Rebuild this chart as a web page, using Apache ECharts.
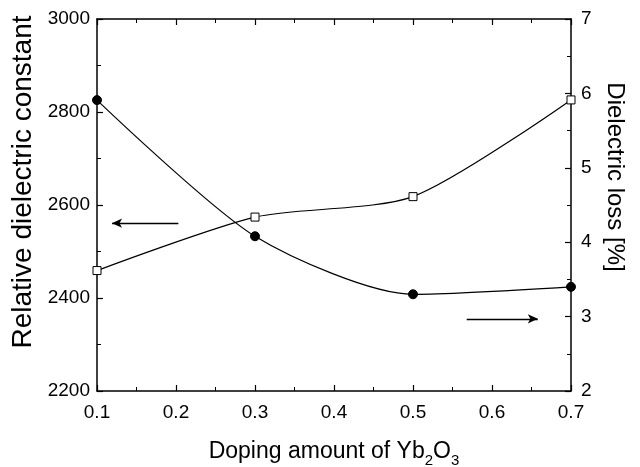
<!DOCTYPE html>
<html><head><meta charset="utf-8">
<script src="https://cdn.jsdelivr.net/npm/echarts@6/dist/echarts.min.js"></script>
<style>html,body{margin:0;padding:0;background:#fff}#c{width:640px;height:467px}</style>
</head><body><div id="c"></div>
<script>
const xValues = [0.1, 0.3, 0.5, 0.7];
const dielectricConstant = [2459, 2574, 2618, 2826];
const dielectricLoss = [5.91, 4.08, 3.30, 3.40];
const leftArrow = [[0.119, 2561], [0.203, 2561]];
const rightArrow = [[0.568, 2.97], [0.658, 2.97]];

const FONT = 'Liberation Sans, Arial, sans-serif';
const chart = echarts.init(document.getElementById('c'));
const axisLine = {show: true, lineStyle: {color: '#000', width: 1.5}};
const tick = {show: true, inside: true, length: 6, lineStyle: {color: '#000', width: 1.2}};
const minorTick = {show: true, splitNumber: 2, length: 4, lineStyle: {color: '#000', width: 1}};
const label = {color: '#000', fontFamily: FONT, fontSize: 19, margin: 7, formatter: v => String(v)};

chart.setOption({
  animation: false,
  backgroundColor: '#fff',
  grid: {left: 97, right: 69, top: 19, bottom: 76, containLabel: false, outerBoundsMode: 'none'},
  xAxis: [{
    type: 'value', min: 0.1, max: 0.7, interval: 0.1, position: 'bottom',
    axisLine, axisTick: tick, minorTick: Object.assign({}, minorTick), splitLine: {show: false},
    axisLabel: Object.assign({}, label, {formatter: v => v.toFixed(1), margin: 12}),
    name: '{a|Doping amount of Yb}{s|2}{a|O}{s|3}', nameLocation: 'middle', nameGap: 46,
    nameTextStyle: {rich: {
      a: {fontFamily: FONT, fontSize: 23, color: '#000', lineHeight: 26, verticalAlign: 'bottom'},
      s: {fontFamily: FONT, fontSize: 15, color: '#000', lineHeight: 26, verticalAlign: 'bottom', padding: [0, 0, -5, 0]}
    }}
  }, {
    type: 'value', min: 0.1, max: 0.7, interval: 0.1, position: 'top',
    axisLine, axisTick: tick, minorTick: Object.assign({}, minorTick), splitLine: {show: false},
    axisLabel: {show: false}
  }],
  yAxis: [{
    type: 'value', min: 2200, max: 3000, interval: 200, position: 'left',
    axisLine, axisTick: tick, minorTick, splitLine: {show: false},
    axisLabel: label,
    name: 'Relative dielectric constant', nameLocation: 'middle', nameGap: 59, nameRotate: 90,
    nameTextStyle: {fontFamily: FONT, fontSize: 28, color: '#000', padding: [0, 0, 0, 46]}
  }, {
    type: 'value', min: 2, max: 7, interval: 1, position: 'right',
    axisLine, axisTick: tick, minorTick, splitLine: {show: false},
    axisLabel: Object.assign({}, label, {margin: 10}),
    name: 'Dielectric loss [%]', nameLocation: 'middle', nameGap: 31, nameRotate: -90,
    nameTextStyle: {fontFamily: FONT, fontSize: 24, color: '#000', padding: [0, 56, 0, 0]}
  }],
  series: [{
    type: 'line', xAxisIndex: 0, yAxisIndex: 0,
    data: xValues.map((x, i) => [x, dielectricConstant[i]]),
    smooth: 0.25, symbol: 'rect', symbolSize: 8,
    itemStyle: {color: '#fff', borderColor: '#000', borderWidth: 1},
    lineStyle: {color: '#000', width: 1.2},
    markLine: {
      silent: true, symbol: ['arrow', 'none'], symbolSize: [7, 10],
      lineStyle: {color: '#000', width: 1.3, type: 'solid'}, label: {show: false},
      data: [[{coord: leftArrow[0]}, {coord: leftArrow[1]}]]
    }
  }, {
    type: 'line', xAxisIndex: 0, yAxisIndex: 1,
    data: xValues.map((x, i) => [x, dielectricLoss[i]]),
    smooth: 0.25, symbol: 'circle', symbolSize: 9,
    itemStyle: {color: '#000', borderColor: '#000'},
    lineStyle: {color: '#000', width: 1.2},
    markLine: {
      silent: true, symbol: ['none', 'arrow'], symbolSize: [7, 10],
      lineStyle: {color: '#000', width: 1.3, type: 'solid'}, label: {show: false},
      data: [[{coord: rightArrow[0]}, {coord: rightArrow[1]}]]
    }
  }]
});
</script></body></html>
